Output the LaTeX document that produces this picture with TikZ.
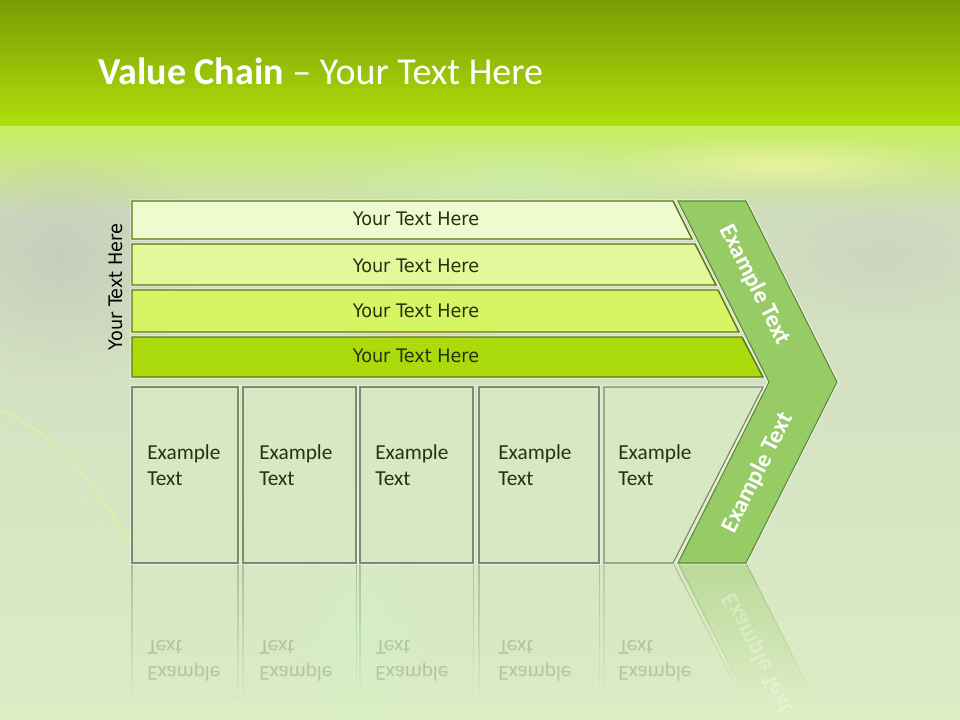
\documentclass[tikz,border=0pt]{standalone}
\usepackage{fontspec}
\setmainfont{Carlito}
\newfontfamily\tah[FakeStretch=0.945]{DejaVu Sans}
\usetikzlibrary{fadings}
\tikzfading[name=reflfade, top color=transparent!55, bottom color=transparent!100]
\tikzfading[name=softblob, inner color=transparent!0, outer color=transparent!100]
\definecolor{hdrA}{HTML}{7B9B04}
\definecolor{hdrB}{HTML}{AFE00A}
\definecolor{bandA}{HTML}{C6F060}
\definecolor{bgMid}{HTML}{D0DCC0}
\definecolor{bgLow}{HTML}{DCEDC4}
\definecolor{barA}{HTML}{EEFBCF}
\definecolor{barB}{HTML}{E3F89A}
\definecolor{barC}{HTML}{D6F463}
\definecolor{barD}{HTML}{ABDB0C}
\definecolor{barLine}{HTML}{5C7810}
\definecolor{boxFill}{HTML}{D6E9C2}
\definecolor{boxLine}{HTML}{7B8B72}
\definecolor{chevFill}{HTML}{97CB66}
\definecolor{chevLine}{HTML}{5E8A35}
\definecolor{txtDark}{HTML}{26330F}
\newcommand{\extxt}{\vbox{\hbox{Example}\hbox{Text}}}
\begin{document}
\begin{tikzpicture}[x=0.75pt,y=-0.75pt,
  barshape/.style={draw=barLine, line width=1.1pt},
  boxshape/.style={fill=boxFill, draw=boxLine, line width=0.9pt},
  chevshape/.style={fill=chevFill, draw=chevLine, line width=0.8pt},
  bartext/.style={font=\tah\fontsize{14}{16}\selectfont, text=txtDark, inner sep=0pt},
  boxtext/.style={font=\fontsize{16}{19.5}\selectfont, text=txtDark, inner sep=0pt, anchor=north west},
  reftext/.style={font=\fontsize{16}{19.5}\selectfont, text=txtDark, inner sep=0pt, anchor=south west, opacity=0.2},
  chevtext/.style={font=\bfseries\fontsize{18}{20}\selectfont, text=white, inner sep=0pt},
  glow/.style={preaction={draw=white, draw opacity=0.45, line width=2.6pt}},
  reflbox/.style={fill=boxFill, draw=boxLine, line width=0.8pt, path fading=reflfade}
]
\useasboundingbox (0,0) rectangle (960,720);
% ---------- background ----------
\shade[top color=hdrA, bottom color=hdrB] (0,0) rectangle (960,127);
\shade[top color=bandA, bottom color=bgMid] (0,127) rectangle (960,215);
\shade[top color=bgMid, bottom color=bgLow] (0,215) rectangle (960,720);
\fill[white!70!yellow, path fading=softblob, opacity=0.55] (780,165) ellipse (180 and 30);
\fill[white!80!green!90!yellow, path fading=softblob, opacity=0.35] (520,180) ellipse (220 and 45);
\fill[gray!60!white, path fading=softblob, opacity=0.35] (60,260) ellipse (140 and 120);
\fill[gray!50!white, path fading=softblob, opacity=0.25] (880,260) ellipse (120 and 60);
\fill[orange!60!red!50!white, path fading=softblob, opacity=0.55] (420,315) ellipse (90 and 35);
\fill[white!80!green, path fading=softblob, opacity=0.35] (360,630) ellipse (70 and 110);
\draw[white!75!green!80!yellow, line width=1.6pt, opacity=0.6] (0,410) .. controls (60,435) and (100,490) .. (130,545);
\draw[white!80!green, line width=0.6pt, opacity=0.35] (0,430) .. controls (50,455) and (90,500) .. (125,560);
\draw[white!80!green, line width=0.6pt, opacity=0.3] (0,450) .. controls (45,470) and (85,515) .. (118,575);
% ---------- title ----------
\node[anchor=base west, inner sep=0pt, text=white, font=\fontsize{28.5}{32}\selectfont] (title) at (98,85)
  {\textbf{Value Chain} -- Your Text Here};
% ---------- bars ----------
\path[barshape, fill=barA, glow] (132,201) -- (673,201) -- (692,239) -- (132,239) -- cycle;
\path[barshape, fill=barB, glow] (132,244) -- (695,244) -- (716,285) -- (132,285) -- cycle;
\path[barshape, fill=barC, glow] (132,290) -- (718,290) -- (739,332) -- (132,332) -- cycle;
\path[barshape, fill=barD, glow] (132,337) -- (742,337) -- (763,377) -- (132,377) -- cycle;
\node[bartext] (t1) at (416,219) {Your Text Here};
\node[bartext] (t2) at (416,266) {Your Text Here};
\node[bartext] (t3) at (416,311) {Your Text Here};
\node[bartext] (t4) at (416,356) {Your Text Here};
\node[bartext, rotate=90, text=black] (side) at (116,287) {Your Text Here};
% ---------- reflections ----------
\path[reflbox] (132,563) rectangle (238,700);
\path[reflbox] (243,563) rectangle (356,700);
\path[reflbox] (360,563) rectangle (473,700);
\path[reflbox] (479,563) rectangle (599,700);
\path[reflbox] (604,563) -- (673,563) -- (743,700) -- (604,700) -- cycle;
\path[fill=chevFill, draw=chevLine, line width=0.6pt, path fading=reflfade] (678,563) -- (746,563) -- (815,700) -- (747,700) -- cycle;
\node[reftext] (r1) at (147,681.5) {\scalebox{1}[-1]{\extxt}};
\node[reftext] (r2) at (259,681.5) {\scalebox{1}[-1]{\extxt}};
\node[reftext] (r3) at (375,681.5) {\scalebox{1}[-1]{\extxt}};
\node[reftext] (r4) at (498,681.5) {\scalebox{1}[-1]{\extxt}};
\node[reftext] (r5) at (618,681.5) {\scalebox{1}[-1]{\extxt}};
\node[chevtext, rotate=-63.43, opacity=0.3] (rc) at (758,653) {\scalebox{1}[-1]{Example Text}};
% ---------- boxes ----------
\path[boxshape, glow] (132,387) rectangle (238,563);
\path[boxshape, glow] (243,387) rectangle (356,563);
\path[boxshape, glow] (360,387) rectangle (473,563);
\path[boxshape, glow] (479,387) rectangle (599,563);
\path[boxshape, glow] (604,387) -- (763,387) -- (673,563) -- (604,563) -- cycle;
\node[boxtext] (e1) at (147,444.5) {\extxt};
\node[boxtext] (e2) at (259,444.5) {\extxt};
\node[boxtext] (e3) at (375,444.5) {\extxt};
\node[boxtext] (e4) at (498,444.5) {\extxt};
\node[boxtext] (e5) at (618,444.5) {\extxt};
% ---------- chevron ----------
\path[chevshape, glow] (678,201) -- (746,201) -- (837,382) -- (746,563) -- (678,563) -- (769,382) -- cycle;
\node[chevtext, rotate=-63.43] (c1) at (755,285) {Example Text};
\node[chevtext, rotate=63.43] (c2) at (758,473) {Example Text};
\end{tikzpicture}
\end{document}
